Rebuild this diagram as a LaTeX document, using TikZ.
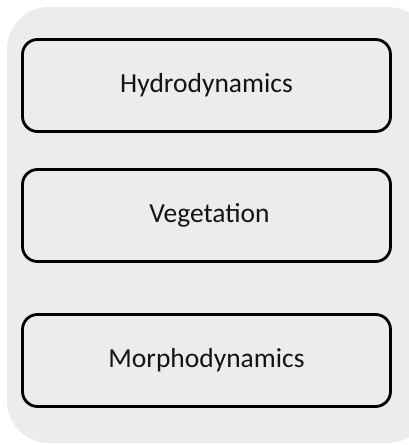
\documentclass[tikz,border=0pt]{standalone}
\usepackage{fontspec}
\setmainfont{Carlito}

\begin{document}
\begin{tikzpicture}[x=1pt, y=1pt]
	% Stili per lo sfondo e i riquadri
	\tikzset{riquadro/.style={draw=black, line width=2.8pt, rounded corners=15pt, fill=sfondo, minimum width=368pt, minimum height=92pt, inner sep=0pt, font=\fontsize{27.5}{32}\selectfont, text=black!92}}
	\definecolor{sfondo}{HTML}{ECECEC}
	
	% Area della figura e sfondo grigio
	\useasboundingbox (0,0) rectangle (408,445);
	\fill[sfondo, rounded corners=42pt] (7,2) rectangle (430,438);
	
	% Riquadri
	\node[riquadro] (idro) at (206.5, 359.5) {\raisebox{2pt}{Hydrodynamics}};
	\node[riquadro] (vege) at (206.5, 229.5) {\hspace{6pt}\raisebox{-2pt}{Vegetation}};
	\node[riquadro] (morfo) at (206.5, 84.5) {\raisebox{4pt}{Morphodynamics}};
\end{tikzpicture}
\end{document}
